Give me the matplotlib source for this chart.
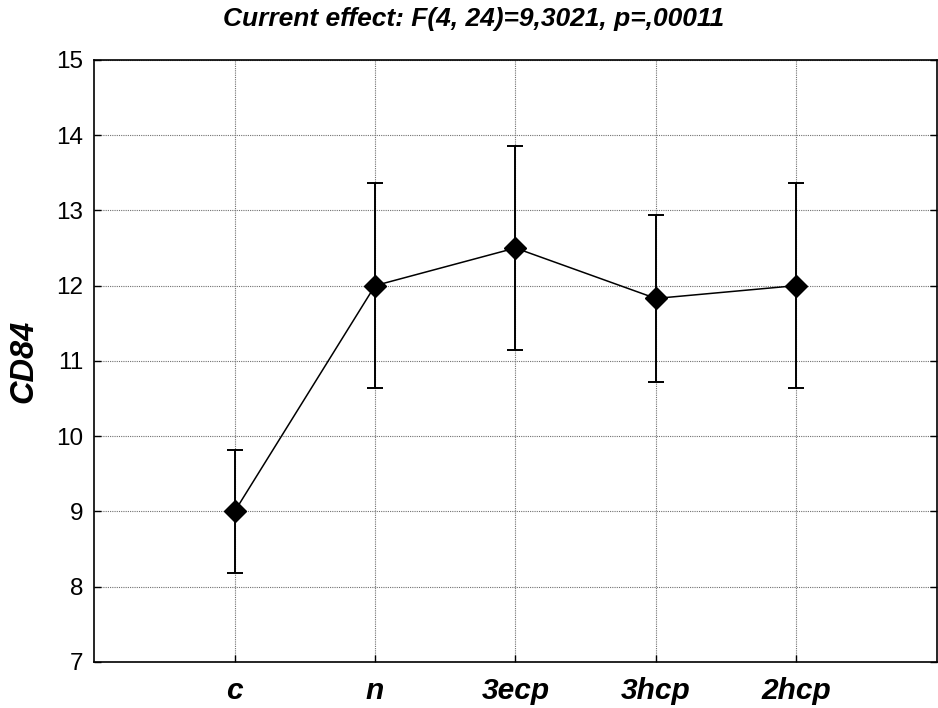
import numpy as np
import matplotlib.pyplot as plt

plt.rcParams['font.family'] = ['Liberation Sans', 'DejaVu Sans']

# group means and confidence half-widths
groups = ['c', 'n', '3ecp', '3hcp', '2hcp']
means = [9.0, 12.0, 12.5, 11.83, 12.0]
half_ci = [0.82, 1.36, 1.36, 1.11, 1.36]
yticks = [7, 8, 9, 10, 11, 12, 13, 14, 15]

x = np.arange(len(groups))

fig = plt.figure(figsize=(9.38, 7.08), dpi=100)
ax = fig.add_axes([0.1005, 0.065, 0.898, 0.8505])

ax.errorbar(x, means, yerr=half_ci, color='black', lw=1.1,
            elinewidth=1.4, capsize=5.5, capthick=1.4,
            marker='D', markersize=11.5, markerfacecolor='black',
            markeredgecolor='black', zorder=3)

ax.set_xlim(-1, len(groups))
ax.set_ylim(7, 15)
ax.set_xticks(x)
ax.set_xticklabels(groups, fontsize=21.5, fontweight='bold', fontstyle='italic')
ax.set_yticks(yticks)
ax.set_yticklabels([str(v) for v in yticks], fontsize=17.5)
ax.tick_params(axis='both', direction='in', length=5, width=1.0,
               left=True, right=True, bottom=True, top=False)
ax.tick_params(axis='x', pad=11)
ax.tick_params(axis='y', pad=8)

ax.grid(True, color='#707070', linestyle=(0, (1, 1)), linewidth=0.8)
ax.set_axisbelow(True)
for s in ax.spines.values():
    s.set_linewidth(1.2)

ax.set_ylabel('CD84', fontsize=23.5, fontweight='bold', fontstyle='italic', labelpad=12)

fig.text(0.505, 0.973, 'Current effect: F(4, 24)=9,3021, p=,00011',
         ha='center', va='center', fontsize=19, fontweight='bold', fontstyle='italic')

fig.savefig('out.png', dpi=100)
